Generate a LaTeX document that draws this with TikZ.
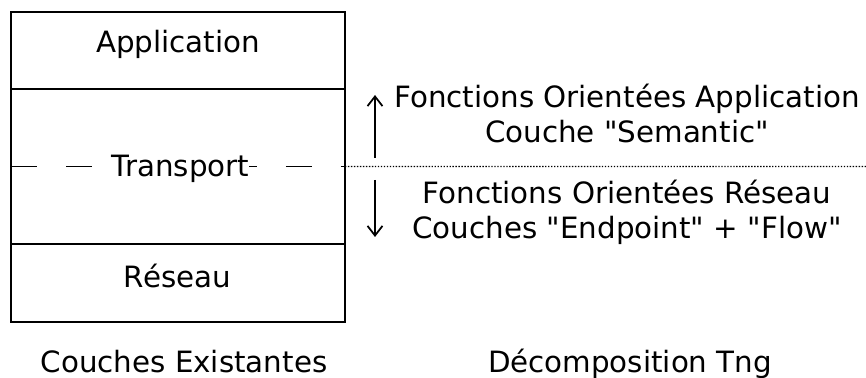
\documentclass[tikz,border=0pt]{standalone}
\usepackage{fontspec}
\setmainfont{DejaVu Sans}
\usetikzlibrary{positioning, arrows.meta}

\begin{document}
\begin{tikzpicture}[x=0.02cm,y=-0.02cm,
                  layer/.style={rectangle,draw,line width=1.1pt,inner sep=0pt,outer sep=0pt,
                    minimum width=6.68cm},
                  txt/.style={anchor=base,inner sep=0pt,font=\fontsize{16.7}{20}\selectfont},
                  cut/.style={line width=1.1pt,dash pattern=on 0.52cm off 0.58cm},
                  sep/.style={line width=0.8pt,dash pattern=on 0.8pt off 0.9pt},
                  post/.style={->,>={Straight Barb[length=5.5pt,width=8.5pt]},line width=1pt}
                  ]
                  \useasboundingbox (0,0) rectangle (866,378);
                  % existing layers
                  \node[layer,minimum height=1.54cm] (app) at (178,50.5) {};
                  \node[layer,minimum height=3.1cm] (trans) [below=0pt of app] {};
                  \node[layer,minimum height=1.56cm] (net) [below=0pt of trans] {};
                  \draw[cut] (trans.west) -- (trans.east);
                  \node[txt] (appname) at (178,53) {Application};
                  \node[txt,fill=white] (transname) at (180.5,176.5) {Transport};
                  \node[txt] (netname) at (177.5,288) {Réseau};

                  % split line
                  \coordinate (far) at (866,166.5);
                  \draw[sep] (trans.east) -- (far);

                  \coordinate (upS) at (375,158);
                  \coordinate (upE) at (375,95);
                  \coordinate (dnS) at (375,180);
                  \coordinate (dnE) at (375,237);
                  \draw[post] (upS) -- (upE);
                  \draw[post] (dnS) -- (dnE);

                  \node[txt] (appfct) at (627,108) {Fonctions Orientées Application};
                  \node[txt] (sem) at (627,143) {Couche \textquotedbl Semantic\textquotedbl};
                  \node[txt] (netfct) at (627,204) {Fonctions Orientées Réseau};
                  \node[txt] (flow) at (627,239) {Couches \textquotedbl Endpoint\textquotedbl{} + \textquotedbl Flow\textquotedbl};

                  % captions
                  \node[txt] (old) at (184,373) {Couches Existantes};
                  \node[txt] (tng) at (630,373) {Décomposition Tng};
                \end{tikzpicture}
\end{document}
